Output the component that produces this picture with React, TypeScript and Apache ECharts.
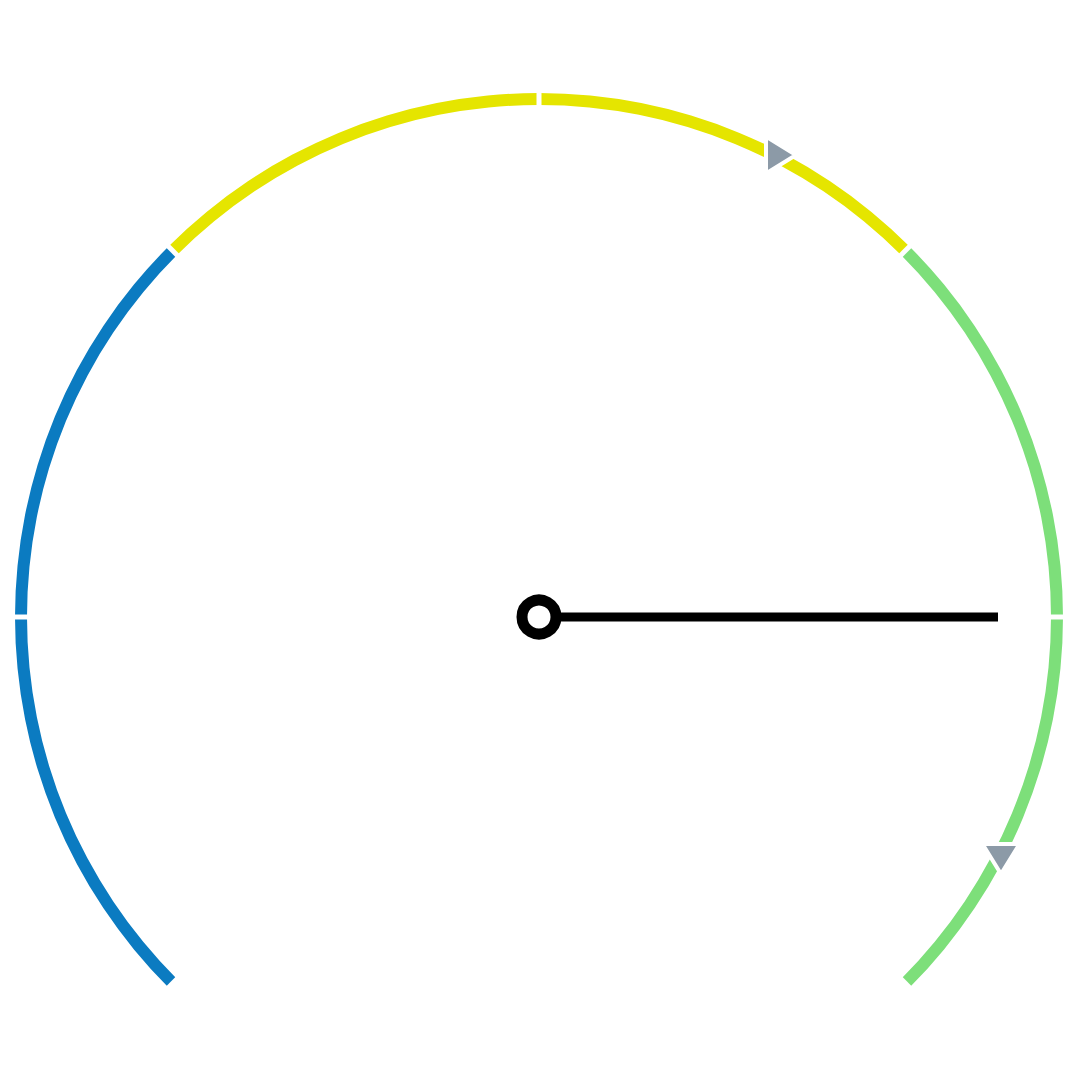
import React, { useEffect, useRef } from "react";
import * as echarts from "echarts";

// Main gauge scale
const gaugeMin = 0;
const gaugeMax = 60;
const splitCount = 6;
// Colour bands (upper bound of each band on the gauge scale)
const bandLimits = [20, 40, 60];
const bandColors = ["#0b7bc1", "#e5e500", "#7ddf7a"];
// Needle value
const needleValues = [50];
// Marker triangles (drawn on a full-circle helper scale 0..80)
const markerMin = 0;
const markerMax = 80;
const markerValues = [50, 70];

export default function App() {
  const ref = useRef<HTMLDivElement>(null);

  useEffect(() => {
    if (!ref.current) return;
    const chart = echarts.init(ref.current, null, { renderer: "svg" });
    const axisColors = bandLimits.map((v, i) => [
      (v - gaugeMin) / (gaugeMax - gaugeMin),
      bandColors[i],
    ]);
    const center = [539, 617];
    const radius = 524;
    chart.setOption({
      animation: false,
      series: [
        {
          type: "gauge",
          center,
          radius,
          startAngle: 225,
          endAngle: -45,
          min: gaugeMin,
          max: gaugeMax,
          splitNumber: splitCount,
          axisLine: {
            lineStyle: { width: 12, color: axisColors },
          },
          splitLine: {
            show: true,
            distance: -13,
            length: 14,
            lineStyle: { color: "#ffffff", width: 5 },
          },
          axisTick: { show: false },
          axisLabel: { show: false },
          pointer: {
            icon: "rect",
            width: 9,
            length: 459,
            itemStyle: { color: "#000000" },
          },
          anchor: {
            show: true,
            showAbove: true,
            size: 34,
            itemStyle: {
              color: "#ffffff",
              borderColor: "#000000",
              borderWidth: 11,
            },
          },
          title: { show: false },
          detail: { show: false },
          data: needleValues.map((v) => ({ value: v })),
        },
        {
          type: "gauge",
          center,
          radius,
          startAngle: 225,
          endAngle: -135,
          min: markerMin,
          max: markerMax,
          axisLine: { show: false },
          splitLine: { show: false },
          axisTick: { show: false },
          axisLabel: { show: false },
          anchor: { show: false },
          pointer: {
            icon: "triangle",
            width: 37,
            length: 30,
            offsetCenter: [-462, -227],
            keepAspect: false,
            itemStyle: {
              color: "#8c9aa7",
              borderColor: "#ffffff",
              borderWidth: 4,
            },
          },
          title: { show: false },
          detail: { show: false },
          data: markerValues.map((v) => ({ value: v })),
        },
      ],
    });
    return () => chart.dispose();
  }, []);

  return (
    <div
      ref={ref}
      style={{ position: "absolute", left: 0, top: 0, width: 1080, height: 1080 }}
    />
  );
}
